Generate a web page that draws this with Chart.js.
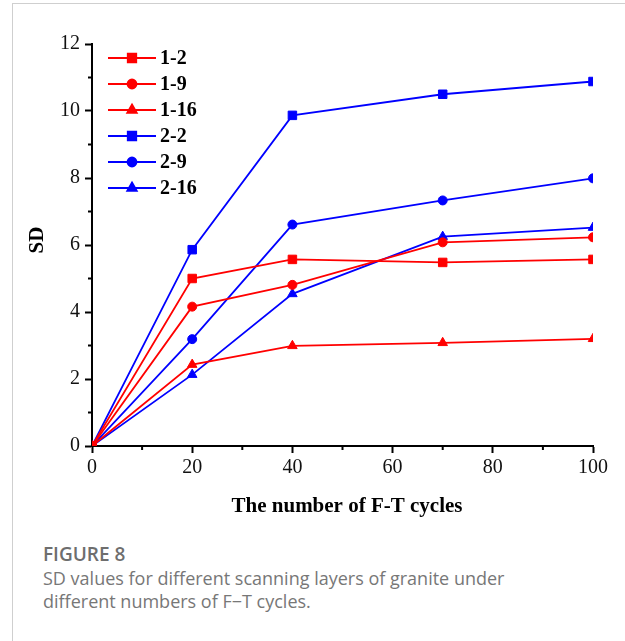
<!DOCTYPE html>
<html>
<head>
<meta charset="utf-8">
<script src="https://cdn.jsdelivr.net/npm/chart.js@4/dist/chart.umd.min.js"></script>
<style>
  html, body { margin: 0; padding: 0; background: #fff; }
  #frame {
    position: absolute; left: 12px; top: 3px; width: 640px; height: 700px;
    border: 1px solid #cfcfcf; box-sizing: border-box;
  }
  #wrap { position: absolute; left: 0; top: 0; width: 625px; height: 530px; }
  .cap { position: absolute; left: 43px; font-family: "Open Sans", sans-serif; color: #777; }
  #figNo { top: 541px; font-size: 19px; font-weight: 600; color: #6e6e6e; }
  #figText { top: 567px; font-size: 18px; line-height: 23px; width: 580px; }
</style>
</head>
<body>
<div id="frame"></div>
<div id="wrap"><canvas id="sdChart" width="625" height="530"></canvas></div>
<div class="cap" id="figNo">FIGURE 8</div>
<div class="cap" id="figText">SD values for different scanning layers of granite under<br>different numbers of F−T cycles.</div>

<script>
const cycles = [0, 20, 40, 70, 100];
const seriesNames = ['1-2', '1-9', '1-16', '2-2', '2-9', '2-16'];
const sd12 = [0, 5.0, 5.57, 5.48, 5.57];
const sd19 = [0, 4.16, 4.81, 6.08, 6.23];
const sd116 = [0, 2.43, 2.99, 3.08, 3.2];
const sd22 = [0, 5.86, 9.87, 10.5, 10.88];
const sd29 = [0, 3.19, 6.61, 7.33, 7.99];
const sd216 = [0, 2.13, 4.54, 6.25, 6.52];

const serifFont = '"Liberation Serif", "Times New Roman", serif';

function makeSet(name, values, color, style, radius) {
    return {
        label: name,
        data: cycles.map((c, i) => ({ x: c, y: values[i] })),
        borderColor: color,
        backgroundColor: color,
        borderWidth: 1.8,
        pointStyle: style,
        pointRadius: radius,
        pointBorderWidth: 1,
        tension: 0
    };
}

// legend drawn as line + marker + bold label, top left of the plot
const lineLegend = {
    id: 'lineLegend',
    afterDraw(chart) {
        const ctx = chart.ctx;
        ctx.save();
        chart.data.datasets.forEach((ds, i) => {
            const y = 58 + i * 26;
            ctx.strokeStyle = ds.borderColor;
            ctx.lineWidth = 1.8;
            ctx.beginPath();
            ctx.moveTo(108, y);
            ctx.lineTo(156, y);
            ctx.stroke();
            ctx.fillStyle = ds.backgroundColor;
            Chart.helpers.drawPoint(ctx, {
                pointStyle: ds.pointStyle, radius: ds.pointRadius, rotation: 0, borderWidth: 1
            }, 132, y);
            ctx.fillStyle = '#000';
            ctx.font = 'bold 20px ' + serifFont;
            ctx.textAlign = 'left';
            ctx.textBaseline = 'middle';
            ctx.fillText(ds.label, 160, y + 1);
        });
        ctx.restore();
    }
};

// minor ticks and axis titles
const axisExtras = {
    id: 'axisExtras',
    afterDraw(chart) {
        const ctx = chart.ctx;
        const xs = chart.scales.x, ys = chart.scales.y;
        const area = chart.chartArea;
        ctx.save();
        ctx.strokeStyle = '#000';
        ctx.lineWidth = 2;
        for (let v = 10; v < 100; v += 20) {
            const px = xs.getPixelForValue(v);
            ctx.beginPath();
            ctx.moveTo(px, area.bottom);
            ctx.lineTo(px, area.bottom + 4);
            ctx.stroke();
        }
        for (let v = 1; v < 12; v += 2) {
            const py = ys.getPixelForValue(v);
            ctx.beginPath();
            ctx.moveTo(area.left, py);
            ctx.lineTo(area.left - 4, py);
            ctx.stroke();
        }
        ctx.fillStyle = '#000';
        ctx.textAlign = 'center';
        ctx.textBaseline = 'middle';
        ctx.font = 'bold 21px ' + serifFont;
        ctx.fillText('The number of F-T cycles', 347, 507);
        ctx.translate(38, 240);
        ctx.rotate(-Math.PI / 2);
        ctx.font = 'bold 21px ' + serifFont;
        ctx.fillText('SD', 0, 0);
        ctx.restore();
    }
};

const chart = new Chart(document.getElementById('sdChart'), {
    type: 'line',
    data: {
        datasets: [
            makeSet(seriesNames[0], sd12, '#ff0000', 'rect', 6),
            makeSet(seriesNames[1], sd19, '#ff0000', 'circle', 4.5),
            makeSet(seriesNames[2], sd116, '#ff0000', 'triangle', 5.5),
            makeSet(seriesNames[3], sd22, '#0000ff', 'rect', 6),
            makeSet(seriesNames[4], sd29, '#0000ff', 'circle', 4.5),
            makeSet(seriesNames[5], sd216, '#0000ff', 'triangle', 5.5)
        ]
    },
    options: {
        responsive: false,
        animation: false,
        layout: { padding: { left: 0, right: 32, top: 44, bottom: 0 } },
        plugins: { legend: { display: false }, tooltip: { enabled: false } },
        scales: {
            x: {
                type: 'linear',
                min: 0, max: 100,
                afterFit(scale) { scale.height = 84; },
                border: { color: '#000', width: 2 },
                grid: {
                    drawOnChartArea: false,
                    tickLength: 7,
                    tickWidth: 2,
                    tickColor: ctx => (ctx.tick && ctx.tick.value % 20 === 0) ? '#000' : 'rgba(0,0,0,0)'
                },
                ticks: {
                    stepSize: 10,
                    padding: 3,
                    maxRotation: 0,
                    color: '#111',
                    font: { family: serifFont, size: 20 },
                    callback: v => (v % 20 === 0 ? v : '')
                }
            },
            y: {
                min: 0, max: 12,
                afterFit(scale) { scale.width = 92; },
                border: { color: '#000', width: 2 },
                grid: {
                    drawOnChartArea: false,
                    tickLength: 7,
                    tickWidth: 2,
                    tickColor: ctx => (ctx.tick && ctx.tick.value % 2 === 0) ? '#000' : 'rgba(0,0,0,0)'
                },
                ticks: {
                    stepSize: 1,
                    padding: 5,
                    color: '#111',
                    font: { family: serifFont, size: 20 },
                    callback: v => (v % 2 === 0 ? v : '')
                }
            }
        }
    },
    plugins: [lineLegend, axisExtras]
});
</script>
</body>
</html>
